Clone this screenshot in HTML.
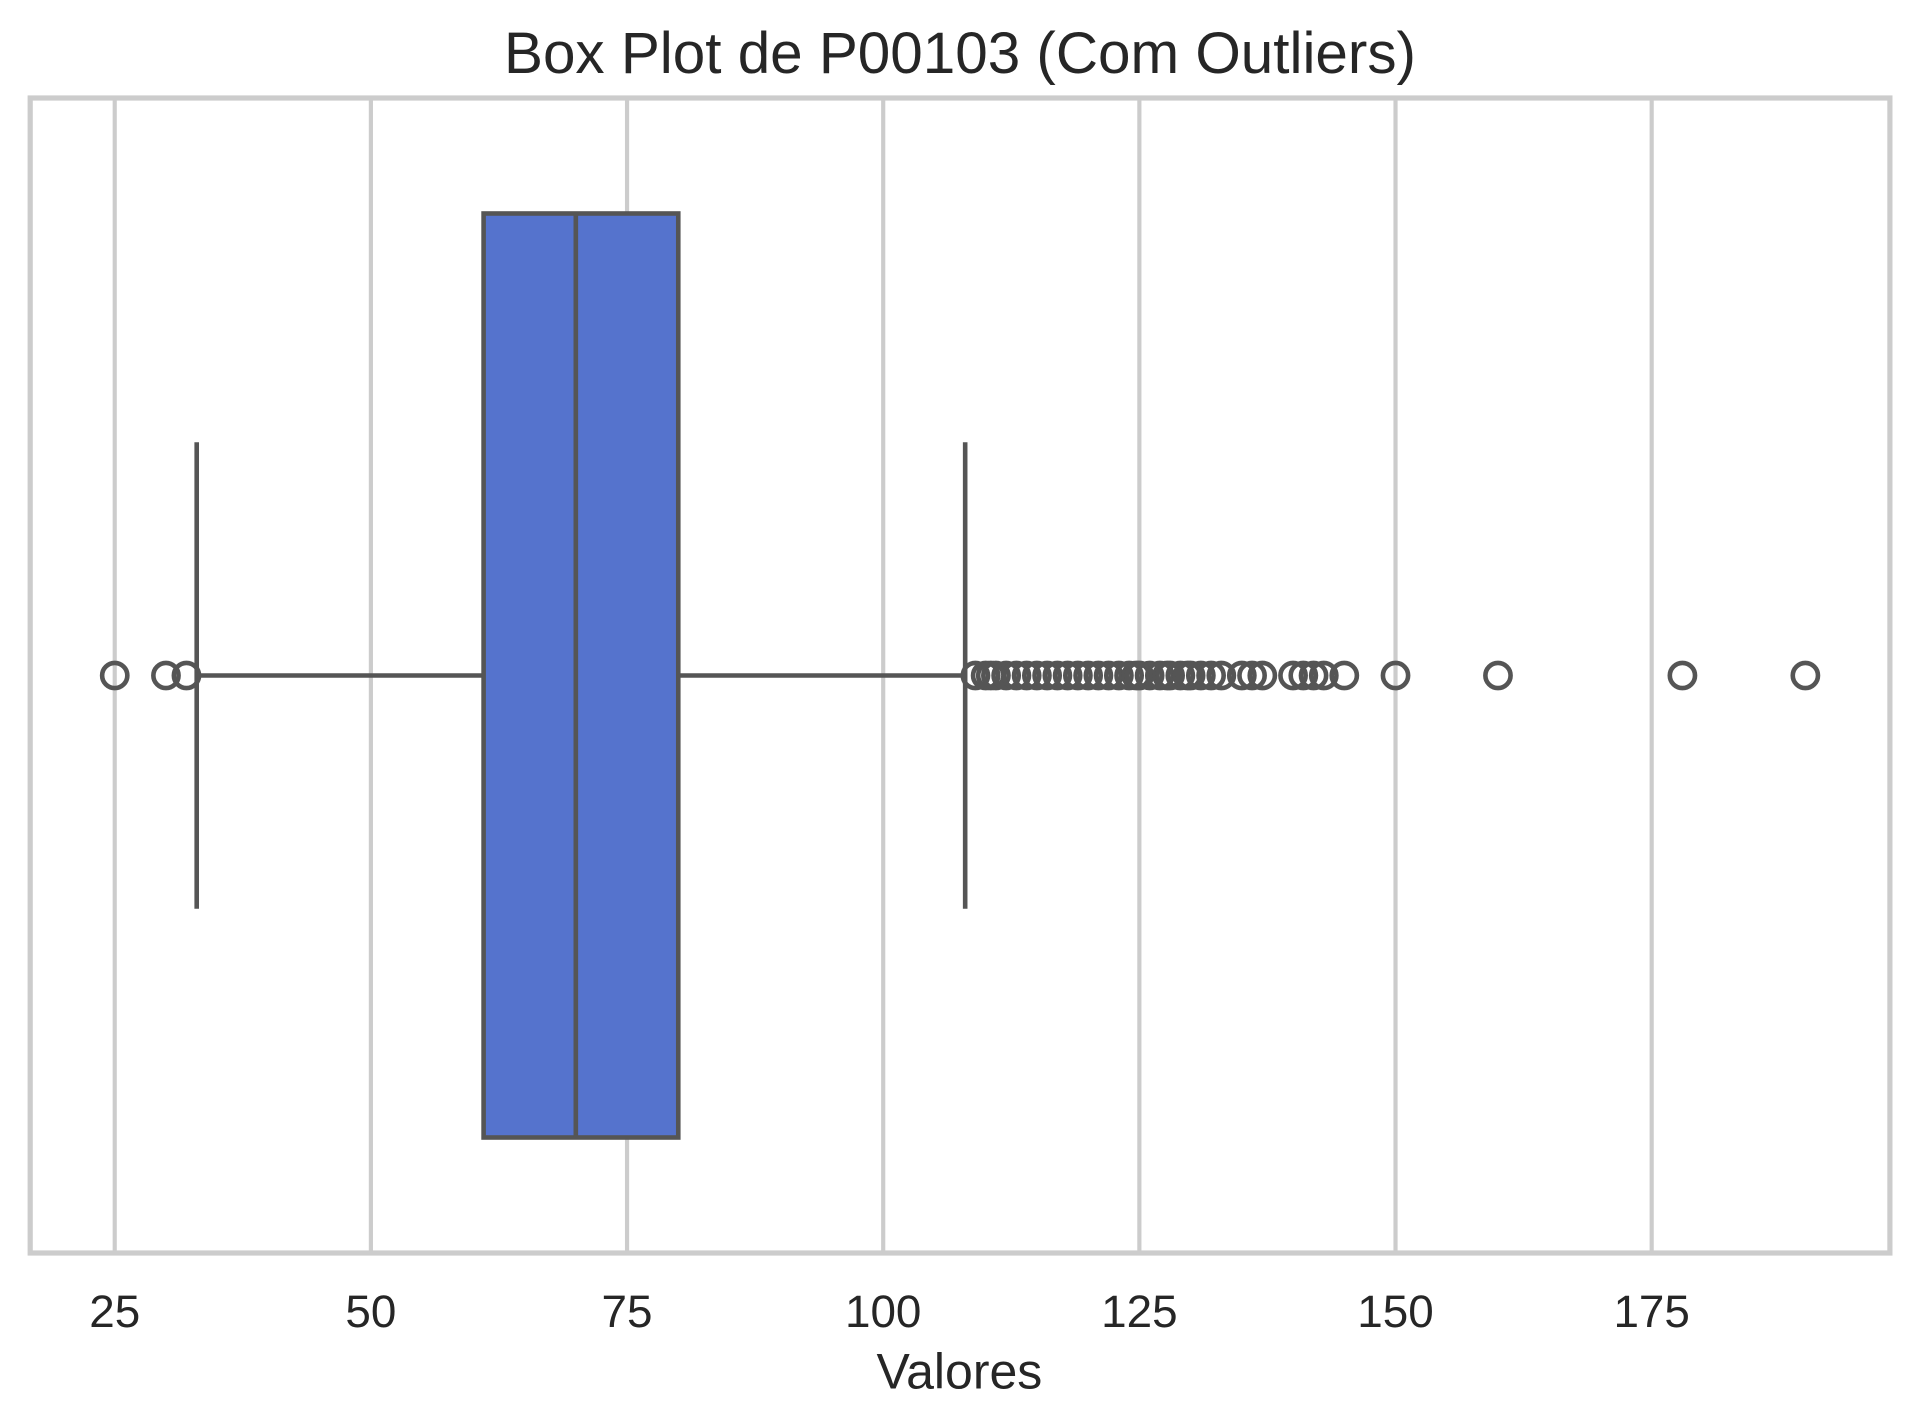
<!DOCTYPE html>
<html lang="pt">
<head>
<meta charset="utf-8">
<title>Box Plot de P00103 (Com Outliers)</title>
<style>
  html, body { margin: 0; padding: 0; background: #fff; }
  svg { display: block; }
  text { font-family: "Liberation Sans", Arial, sans-serif; fill: #262626; }
</style>
</head>
<body>
<svg id="chart" width="1919" height="1428" viewBox="0 0 1919 1428" xmlns="http://www.w3.org/2000/svg">
  <rect x="0" y="0" width="1919" height="1428" fill="#ffffff"/>
  <g id="grid"></g>
  <g id="marks"></g>
  <g id="spines"></g>
  <g id="ticks"></g>
  <text x="960" y="73" font-size="58.4" text-anchor="middle">Box Plot de P00103 (Com Outliers)</text>
  <text x="959.4" y="1388.5" font-size="50" text-anchor="middle">Valores</text>
</svg>
<script>
const tickValues = [25, 50, 75, 100, 125, 150, 175];
const tickLabels = ["25", "50", "75", "100", "125", "150", "175"];
const boxQ1 = 61;
const boxMedian = 70;
const boxQ3 = 80;
const whiskerLow = 33;
const whiskerHigh = 108;
const outliersLow = [25, 30, 32];
const outliersHigh = [109, 110, 110.5, 111, 112, 113, 114, 115, 116, 117, 118, 119, 120, 121, 122, 123, 124, 124.7, 125, 126, 127, 127.7, 128, 129, 129.7, 130, 131, 132, 133, 135, 136, 137, 140, 141, 142, 143, 145, 150, 160, 178, 190];

const NS = "http://www.w3.org/2000/svg";
const plotLeft = 30.2, plotRight = 1889.9, plotTop = 98, plotBottom = 1253;
const xMin = 16.75, xMax = 198.25, yMin = -0.5, yMax = 0.5;
const lineColor = "#555555", gridColor = "#cccccc", boxFill = "#5573cd";
const markWidth = 4.6;

function xScale(v) {
  return plotLeft + (v - xMin) / (xMax - xMin) * (plotRight - plotLeft);
}
function yScale(v) {
  return plotTop + (v - yMin) / (yMax - yMin) * (plotBottom - plotTop);
}
function makeLine(x1, y1, x2, y2, color, width, cap) {
  const el = document.createElementNS(NS, "line");
  el.setAttribute("x1", x1);
  el.setAttribute("y1", y1);
  el.setAttribute("x2", x2);
  el.setAttribute("y2", y2);
  el.setAttribute("stroke", color);
  el.setAttribute("stroke-width", width);
  el.setAttribute("stroke-linecap", cap || "butt");
  return el;
}

const gridGroup = document.getElementById("grid");
const marksGroup = document.getElementById("marks");
const spinesGroup = document.getElementById("spines");
const ticksGroup = document.getElementById("ticks");

tickValues.forEach(function (v, i) {
  const gl = makeLine(xScale(v), plotTop, xScale(v), plotBottom, gridColor, 4.17);
  
  
  gridGroup.appendChild(gl);

  const t = document.createElementNS(NS, "text");
  t.setAttribute("x", xScale(v));
  t.setAttribute("y", 1327);
  t.setAttribute("font-size", 45.83);
  t.setAttribute("text-anchor", "middle");
  t.textContent = tickLabels[i];
  
  
  ticksGroup.appendChild(t);
});

const yc = yScale(0);

const wl = makeLine(xScale(whiskerLow), yc, xScale(boxQ1), yc, lineColor, markWidth);


marksGroup.appendChild(wl);

const wh = makeLine(xScale(boxQ3), yc, xScale(whiskerHigh), yc, lineColor, markWidth);


marksGroup.appendChild(wh);

const cl = makeLine(xScale(whiskerLow), yScale(-0.2), xScale(whiskerLow), yScale(0.2), lineColor, markWidth, "square");


marksGroup.appendChild(cl);

const ch = makeLine(xScale(whiskerHigh), yScale(-0.2), xScale(whiskerHigh), yScale(0.2), lineColor, markWidth, "square");


marksGroup.appendChild(ch);

const box = document.createElementNS(NS, "rect");
box.setAttribute("x", xScale(boxQ1));
box.setAttribute("y", yScale(-0.4));
box.setAttribute("width", xScale(boxQ3) - xScale(boxQ1));
box.setAttribute("height", yScale(0.4) - yScale(-0.4));
box.setAttribute("fill", boxFill);
box.setAttribute("stroke", lineColor);
box.setAttribute("stroke-width", markWidth);


marksGroup.appendChild(box);

const med = makeLine(xScale(boxMedian), yScale(-0.4), xScale(boxMedian), yScale(0.4), lineColor, markWidth);


marksGroup.appendChild(med);

outliersLow.concat(outliersHigh).forEach(function (v) {
  const c = document.createElementNS(NS, "circle");
  c.setAttribute("cx", xScale(v));
  c.setAttribute("cy", yc);
  c.setAttribute("r", 12.6);
  c.setAttribute("fill", "none");
  c.setAttribute("stroke", lineColor);
  c.setAttribute("stroke-width", markWidth);
  
  
  marksGroup.appendChild(c);
});

const frame = document.createElementNS(NS, "rect");
frame.setAttribute("x", plotLeft);
frame.setAttribute("y", plotTop);
frame.setAttribute("width", plotRight - plotLeft);
frame.setAttribute("height", plotBottom - plotTop);
frame.setAttribute("fill", "none");
frame.setAttribute("stroke", gridColor);
frame.setAttribute("stroke-width", 5.2);


spinesGroup.appendChild(frame);
</script>
</body>
</html>
